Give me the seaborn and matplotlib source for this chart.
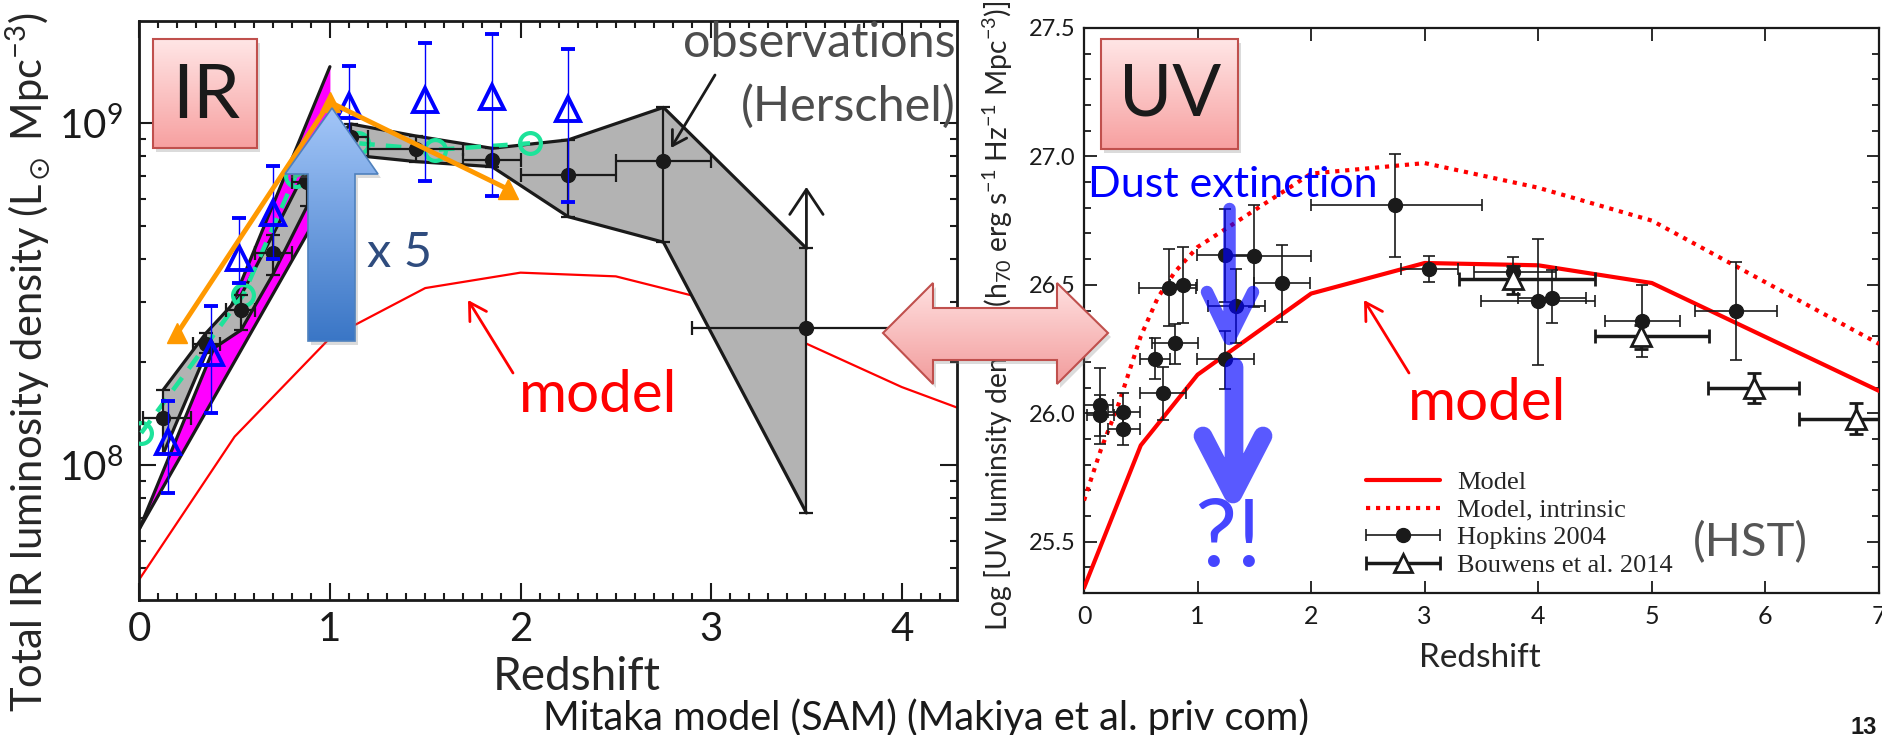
import numpy as np
import matplotlib
matplotlib.use('Agg')
import matplotlib.pyplot as plt
import seaborn as sns
import pandas as pd
from matplotlib.patches import Polygon, FancyArrowPatch
from matplotlib.colors import LinearSegmentedColormap
from matplotlib import ticker
from matplotlib.lines import Line2D
from matplotlib.legend_handler import HandlerErrorbar

# ---------------- LEFT PANEL DATA (IR) ----------------
ir_model_z = [0.0, 0.5, 1.0, 1.5, 2.0, 2.5, 3.0, 4.0, 5.0]
ir_model = [4.63e7, 1.21e8, 2.35e8, 3.29e8, 3.65e8, 3.56e8, 3.03e8, 1.69e8, 1.05e8]

mag_z = [0.0, 1.0]
mag_lo = [6.5e7, 6.2e8]
mag_hi = [6.5e7, 1.46e9]

gr_z = [0.126, 0.35, 0.534, 0.70, 0.88, 1.11, 1.45, 1.85, 2.25, 2.75, 3.50]
gr_lum = [1.37e8, 2.26e8, 2.83e8, 4.16e8, 6.7e8, 9.1e8, 8.37e8, 7.8e8, 7.05e8, 7.76e8, 2.51e8]
gr_lo = [1.08e8, 2.12e8, 2.48e8, 3.6e8, 5.7e8, 8.06e8, 7.71e8, 7.45e8, 5.32e8, 4.48e8, 7.24e7]
gr_hi = [1.66e8, 2.43e8, 3.14e8, 4.7e8, 7.4e8, 9.93e8, 9.16e8, 8.43e8, 8.92e8, 1.11e9, 4.3e8]
gr_zlo = [0.02, 0.28, 0.455, 0.607, 0.80, 1.00, 1.20, 1.70, 2.00, 2.50, 2.90]
gr_zhi = [0.27, 0.423, 0.607, 0.80, 1.00, 1.20, 1.70, 2.00, 2.50, 3.00, 4.20]
gr_limit_z = [3.5]
gr_limit_from = [4.3e8]
gr_limit_to = [6.5e8]

bl_z = [0.152, 0.374, 0.525, 0.70, 1.10, 1.498, 1.848, 2.25]
bl_lum = [1.17e8, 2.12e8, 4.02e8, 5.44e8, 1.12e9, 1.17e9, 1.19e9, 1.10e9]
bl_lo = [8.26e7, 1.42e8, 3.4e8, 4.0e8, 8.5e8, 6.77e8, 6.12e8, 5.89e8]
bl_hi = [1.54e8, 2.92e8, 5.26e8, 7.48e8, 1.47e9, 1.71e9, 1.82e9, 1.64e9]

gn_z = [0.01, 0.545, 0.82, 1.15, 1.55, 2.05]
gn_lum = [1.24e8, 3.14e8, 7.0e8, 8.72e8, 8.34e8, 8.72e8]

or_z = [0.2, 1.0, 1.935]
or_lum = [2.43e8, 1.15e9, 6.4e8]

# ---------------- RIGHT PANEL DATA (UV) ----------------
uv_model_z = [0, 0.5, 1, 2, 3, 4, 5, 7]
uv_model = [25.32, 25.875, 26.15, 26.466, 26.585, 26.576, 26.507, 26.087]
uv_int_z = [0, 0.15, 0.3, 0.5, 0.65, 0.8, 1.0, 2.0, 3.0, 4.0, 5.0, 7.0]
uv_int = [25.66, 25.86, 26.03, 26.30, 26.45, 26.55, 26.647, 26.933, 26.974, 26.878, 26.75, 26.27]

hop_z = [0.145, 0.145, 0.344, 0.344, 0.623, 0.697, 0.80, 0.746, 0.873, 1.245, 1.495,
         1.342, 1.245, 1.744, 2.742, 3.035, 3.777, 4.0, 4.124, 4.916, 5.738]
hop_y = [26.031, 25.992, 26.005, 25.94, 26.213, 26.08, 26.274, 26.489, 26.50, 26.615, 26.612,
         26.416, 26.21, 26.507, 26.809, 26.563, 26.55, 26.437, 26.45, 26.359, 26.398]
hop_zlo = [0.145, 0.12, 0.13, 0.13, 0.13, 0.2, 0.2, 0.26, 0.12, 0.25, 0.25,
           0.25, 0.25, 0.25, 0.74, 0.24, 0.34, 0.5, 0.3, 0.33, 0.36]
hop_zhi = [0.11, 0.12, 0.15, 0.15, 0.13, 0.2, 0.2, 0.24, 0.12, 0.25, 0.5,
           0.25, 0.25, 0.25, 0.76, 0.26, 0.38, 0.5, 0.3, 0.33, 0.36]
hop_ylo = [0.15, 0.08, 0.07, 0.065, 0.078, 0.105, 0.083, 0.15, 0.149, 0.18, 0.2,
           0.142, 0.117, 0.15, 0.2, 0.052, 0.06, 0.25, 0.1, 0.14, 0.19]
hop_yhi = [0.147, 0.08, 0.075, 0.06, 0.078, 0.1, 0.075, 0.149, 0.149, 0.18, 0.2,
           0.147, 0.11, 0.147, 0.2, 0.05, 0.06, 0.24, 0.106, 0.139, 0.19]

bw_z = [3.777, 4.907, 5.90, 6.80]
bw_y = [26.524, 26.30, 26.098, 25.979]
bw_zlo = [0.477, 0.407, 0.41, 0.50]
bw_zhi = [0.723, 0.593, 0.40, 0.50]
bw_ylo = [0.06, 0.05, 0.06, 0.06]
bw_yhi = [0.05, 0.045, 0.06, 0.06]

legend_labels = ['Model', 'Model, intrinsic', 'Hopkins 2004', 'Bouwens et al. 2014']

# ---------------- STYLE ----------------
sns.set_theme(style='ticks')
plt.rcParams['font.family'] = ['Lato', 'DejaVu Sans']
plt.rcParams['mathtext.fontset'] = 'custom'
plt.rcParams['mathtext.rm'] = 'Lato'
plt.rcParams['mathtext.it'] = 'Lato:italic'
plt.rcParams['mathtext.default'] = 'regular'

W, H = 1883, 735
fig = plt.figure(figsize=(W / 100, H / 100), dpi=100)
fig.patch.set_facecolor('white')


def frac(l, t, r, b):
    return [l / W, 1 - b / H, (r - l) / W, (b - t) / H]


axL = fig.add_axes(frac(139.3, 20.7, 957, 600))
axR = fig.add_axes(frac(1084, 28, 1879, 593))

# ---------------- LEFT PANEL ----------------
axL.set_yscale('log')
axL.fill_between(mag_z, mag_lo, mag_hi, color='#FF00FF', lw=0, zorder=1)
axL.plot(mag_z, mag_lo, color='k', lw=2.3, zorder=2)
axL.plot(mag_z, mag_hi, color='k', lw=2.3, zorder=2)

axL.fill_between(gr_z, gr_lo, gr_hi, color='#B3B3B3', lw=0, zorder=3)
axL.plot(gr_z, gr_lo, color='k', lw=2.3, zorder=4)
axL.plot(gr_z, gr_hi, color='k', lw=2.3, zorder=4)

df_ir = pd.DataFrame({'z': ir_model_z, 'L': ir_model})
sns.lineplot(data=df_ir, x='z', y='L', ax=axL, color='red', lw=1.6, estimator=None, sort=False, zorder=2)

df_gn = pd.DataFrame({'z': gn_z, 'L': gn_lum})
sns.lineplot(data=df_gn, x='z', y='L', ax=axL, color='#1DE39A', lw=3.2,
             linestyle=(0, (3.5, 2.5)), estimator=None, sort=False, zorder=5)
axL.plot(gn_z, gn_lum, ls='none', marker='o', ms=15, mfc='none', mec='#1DE39A', mew=3, zorder=5)

gz = np.array(gr_z); gl = np.array(gr_lum)
axL.errorbar(gr_z, gr_lum, yerr=[gl - np.array(gr_lo), np.array(gr_hi) - gl],
             xerr=[gz - np.array(gr_zlo), np.array(gr_zhi) - gz],
             fmt='o', color='k', ms=10, lw=1.6, capsize=5, capthick=1.6, zorder=6)
for zz, y0, y1 in zip(gr_limit_z, gr_limit_from, gr_limit_to):
    axL.annotate('', xy=(zz, y1), xytext=(zz, y0),
                 arrowprops=dict(arrowstyle='->,head_length=0.45,head_width=0.3', lw=2, color='k',
                                 mutation_scale=40, shrinkA=0, shrinkB=0), zorder=6)

bll = np.array(bl_lum)
axL.errorbar(bl_z, bl_lum, yerr=[bll - np.array(bl_lo), np.array(bl_hi) - bll],
             fmt='^', mfc='none', mec='#0000FF', mew=2.8, ms=17, ecolor='#0000FF',
             elinewidth=1, capsize=5, capthick=1, zorder=7)

axL.plot(or_z, or_lum, color='#FF9900', lw=3.5, marker='^', ms=15, zorder=8)

axL.set_xlim(0, 4.29)
axL.set_ylim(4.03e7, 1.99e9)
axL.xaxis.set_major_locator(ticker.MultipleLocator(1))
axL.xaxis.set_minor_locator(ticker.MultipleLocator(0.1))
axL.yaxis.set_major_locator(ticker.LogLocator(base=10, numticks=10))
axL.yaxis.set_minor_locator(ticker.LogLocator(base=10, subs=np.arange(2, 10), numticks=10))
axL.yaxis.set_major_formatter(ticker.LogFormatterSciNotation())
axL.yaxis.set_minor_formatter(ticker.NullFormatter())
axL.tick_params(which='both', direction='in', top=True, right=True, width=1.5, colors='k')
axL.tick_params(which='major', length=12)
axL.tick_params(which='minor', length=5)
axL.tick_params(axis='x', labelsize=29, pad=8)
axL.tick_params(axis='y', labelsize=29, pad=12)
for s in axL.spines.values():
    s.set_linewidth(2)
    s.set_color('k')
axL.set_xlabel('Redshift', fontsize=33, va='center')
axL.xaxis.set_label_coords(0.535, -0.133)
axL.set_ylabel(r'Total IR luminosity density (L$_\odot$ Mpc$^{-3}$)', fontsize=30, va='center')
axL.yaxis.set_label_coords(-0.136, 0.41)

# ---------------- RIGHT PANEL ----------------
df_uv = pd.DataFrame({'z': uv_model_z, 'y': uv_model})
sns.lineplot(data=df_uv, x='z', y='y', ax=axR, color='red', lw=3, estimator=None, sort=False, zorder=3)
df_int = pd.DataFrame({'z': uv_int_z, 'y': uv_int})
sns.lineplot(data=df_int, x='z', y='y', ax=axR, color='red', lw=3, linestyle=(0, (1, 1.4)),
             estimator=None, sort=False, zorder=3)

axR.errorbar(hop_z, hop_y, yerr=[hop_ylo, hop_yhi], xerr=[hop_zlo, hop_zhi], fmt='o', color='k',
             ms=10, lw=1.2, capsize=4, capthick=1.2, zorder=5)
axR.errorbar(bw_z, bw_y, yerr=[bw_ylo, bw_yhi], xerr=[bw_zlo, bw_zhi], fmt='^', color='k',
             mfc='white', mec='k', mew=2, ms=14, lw=2.5, capsize=5, capthick=2.5, zorder=5)

axR.set_xlim(0, 7)
axR.set_ylim(25.3, 27.5)
axR.xaxis.set_major_locator(ticker.MultipleLocator(1))
axR.yaxis.set_major_locator(ticker.MultipleLocator(0.5))
axR.yaxis.set_minor_locator(ticker.MultipleLocator(0.1))
axR.yaxis.set_major_formatter(ticker.FormatStrFormatter('%.1f'))
axR.tick_params(which='both', direction='in', top=True, right=True, width=1.3, colors='k')
axR.tick_params(which='major', length=9)
axR.tick_params(which='minor', length=5)
axR.tick_params(axis='x', labelsize=18, pad=9)
axR.tick_params(axis='y', labelsize=17, pad=6)
for s in axR.spines.values():
    s.set_linewidth(1.6)
    s.set_color('k')
axR.set_xlabel('Redshift', fontsize=24, va='center')
axR.xaxis.set_label_coords(0.498, -0.115)
axR.set_ylabel(r'Log [UV luminsity density (h$_{70}$ erg s$^{-1}$ Hz$^{-1}$ Mpc$^{-3}$)]', fontsize=20.3,
               va='center')
axR.yaxis.set_label_coords(-0.108, 0.49)

# legend
h_model = Line2D([], [], color='red', lw=3)
h_int = Line2D([], [], color='red', lw=3, ls=(0, (1, 1.4)))
h_hop = axR.errorbar([np.nan], [np.nan], xerr=[[0.1], [0.1]], fmt='o', color='k', ms=10, lw=1.2,
                     capsize=4, capthick=1.2)
h_bw = axR.errorbar([np.nan], [np.nan], xerr=[[0.1], [0.1]], fmt='^', color='k', mfc='white', mec='k',
                    mew=2, ms=13, lw=2.5, capsize=5, capthick=2.5)
leg = axR.legend([h_model, h_int, h_hop, h_bw], legend_labels,
                 prop={'family': 'Liberation Serif', 'size': 19}, frameon=False,
                 loc='upper left', bbox_to_anchor=(1366 / W, 1 - 471 / H), bbox_transform=fig.transFigure,
                 borderpad=0, borderaxespad=0, handlelength=2.8, handletextpad=0.64, labelspacing=0.15,
                 handler_map={h_hop: HandlerErrorbar(xerr_size=1.4), h_bw: HandlerErrorbar(xerr_size=1.4)})

# ---------------- OVERLAY DECORATIONS (pixel coordinates) ----------------
ov = fig.add_axes([0, 0, 1, 1])
ov.set_facecolor('none')


def grad_patch(ax, verts, ctop, cbot, ec, lw, z, shadow=True):
    verts = np.asarray(verts, float)
    if shadow:
        ax.add_patch(Polygon(verts + np.array([3, 4]), closed=True, fc='#808080', ec='none',
                             alpha=0.28, zorder=z - 1))
    poly = Polygon(verts, closed=True, fc='none', ec=ec, lw=lw, zorder=z + 1)
    ax.add_patch(poly)
    x0, y0 = verts.min(0)
    x1, y1 = verts.max(0)
    cmap = LinearSegmentedColormap.from_list('g', [ctop, cbot])
    im = ax.imshow(np.linspace(0, 1, 256)[:, None], cmap=cmap, extent=(x0, x1, y1, y0), origin='upper',
                   aspect='auto', zorder=z, interpolation='bilinear')
    im.set_clip_path(poly)


# IR / UV labels boxes
box_IR = [(153, 39), (257, 39), (257, 148), (153, 148)]
box_UV = [(1101, 39), (1238, 39), (1238, 149), (1101, 149)]
grad_patch(ov, box_IR, '#FFE6E6', '#F7A0A0', '#C0504D', 1.5, 20)
grad_patch(ov, box_UV, '#FFE6E6', '#F7A0A0', '#C0504D', 1.5, 20)
ov.text(206, 96, 'IR', fontsize=54, ha='center', va='center', color='k', zorder=30)
ov.text(1170, 95, 'UV', fontsize=52, ha='center', va='center', color='k', zorder=30)

# big blue "x 5" arrow
blue_arrow = [(308, 341), (355, 341), (355, 174), (378, 174), (332, 108), (285, 174), (308, 174)]
grad_patch(ov, blue_arrow, '#A3C6F8', '#3A76C6', '#4F81BD', 1.2, 20)
ov.text(367, 253, 'x 5', fontsize=35, ha='left', va='center', color='#2F4C7E', zorder=30)

# double pink arrow
dbl = [(883, 333), (933, 283), (933, 308), (1057, 308), (1057, 283), (1108, 333),
       (1057, 384), (1057, 360), (933, 360), (933, 384)]
grad_patch(ov, dbl, '#FFE0E0', '#F29C9C', '#C0504D', 1.5, 20)

# annotation texts
ov.text(956, 43, 'observations', fontsize=35, ha='right', va='center', color='#4D4D4D', zorder=30)
ov.text(956, 106, '(Herschel)', fontsize=35, ha='right', va='center', color='#4D4D4D', zorder=30)
ov.add_patch(FancyArrowPatch((715, 75), (671, 148), arrowstyle='->,head_length=10,head_width=6',
                             color='k', lw=2, zorder=30, shrinkA=0, shrinkB=0))

ov.text(598, 395, 'model', fontsize=42, ha='center', va='center', color='#FF0000', zorder=30)
ov.add_patch(FancyArrowPatch((513, 373), (468, 300), arrowstyle='->,head_length=12,head_width=7',
                             color='#FF0000', lw=2, zorder=30, shrinkA=0, shrinkB=0))
ov.text(1487, 403, 'model', fontsize=42, ha='center', va='center', color='#FF0000', zorder=30)
ov.add_patch(FancyArrowPatch((1409, 373), (1364, 300), arrowstyle='->,head_length=12,head_width=7',
                             color='#FF0000', lw=2, zorder=30, shrinkA=0, shrinkB=0))

ov.text(1088, 185, 'Dust extinction', fontsize=31, ha='left', va='center', color='#0000FF', zorder=30)
ov.plot([1229.5, 1229.5, np.nan, 1207, 1229.5, 1253], [209, 332, np.nan, 292, 339, 292],
        color='#0000FF', alpha=0.65, lw=9, solid_capstyle='round', solid_joinstyle='round', zorder=31)
ov.plot([1234, 1234, np.nan, 1203, 1233, 1263], [367, 488, np.nan, 436, 494, 436],
        color='#0000FF', alpha=0.65, lw=13.5, solid_capstyle='round', solid_joinstyle='round', zorder=31)
ov.text(1228, 540, '?!', fontsize=68, ha='center', va='center', color='#4545FF', zorder=30)

ov.text(1750, 543, '(HST)', fontsize=34, ha='center', va='center', color='#555555', zorder=30)

ov.text(926, 718, 'Mitaka model (SAM) (Makiya et al. priv com)', fontsize=28.5, ha='center', va='center',
        color='k', zorder=30)
ov.text(1864, 727, '13', fontsize=17, fontweight='bold', family='Liberation Sans', ha='center', va='center',
        color='k', zorder=30)

ov.set_xlim(0, W)
ov.set_ylim(H, 0)
ov.axis('off')

fig.savefig('out.png', dpi=100, facecolor='white')
